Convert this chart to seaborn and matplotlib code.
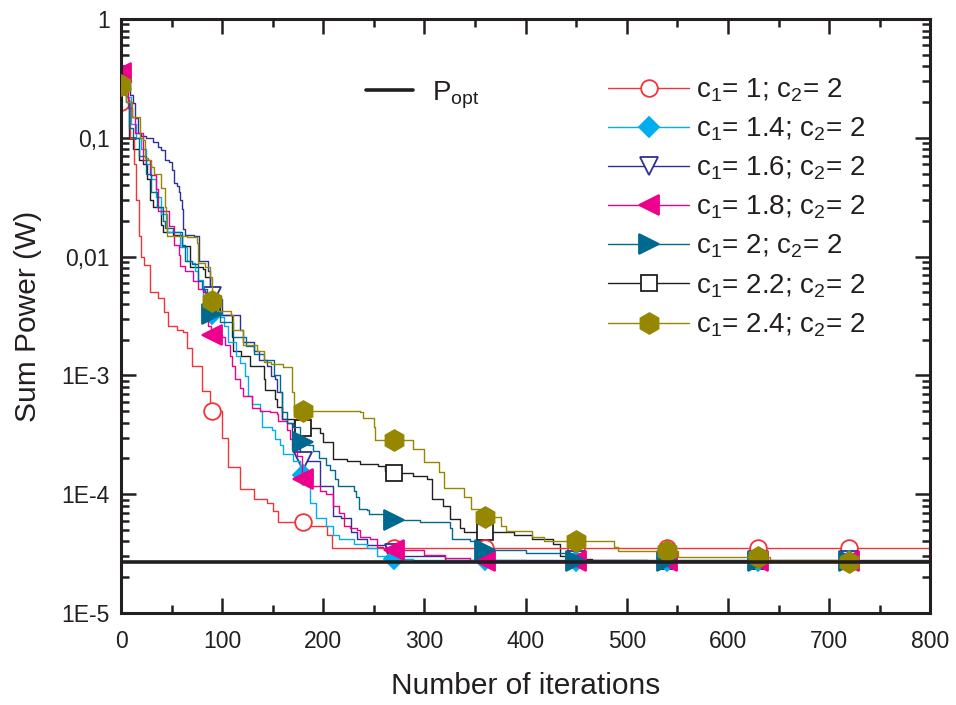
import numpy as np
import pandas as pd
import matplotlib
matplotlib.use("Agg")
import matplotlib.pyplot as plt
import seaborn as sns
from matplotlib.lines import Line2D
from matplotlib.ticker import FixedLocator, FixedFormatter, LogLocator, NullFormatter, MultipleLocator

# values (iteration, sum power in W)
red_x = [0, 9, 13, 15, 18, 20, 23, 29, 37, 42, 46, 55, 61, 65, 70, 80, 88, 100, 106, 118, 131, 144, 150, 155, 182, 204, 209, 800]
red_y = [0.2, 0.1, 0.06, 0.03, 0.015, 0.01, 0.0085, 0.005, 0.0045, 0.0034, 0.0026, 0.0024, 0.0023, 0.0017, 0.0012, 7.4e-4,
         5.0e-4, 3.0e-4, 1.7e-4, 1.1e-4, 9.2e-5, 8.5e-5, 7.2e-5, 5.8e-5, 5.4e-5, 4.5e-5, 3.5e-5, 3.5e-5]

cyan_x = [0, 5, 10, 15, 20, 25, 30, 35, 40, 45, 53, 58, 65, 70, 73, 76, 81, 86, 89, 98, 102, 106, 114, 118, 123, 126,
          129, 137, 139, 149, 152, 157, 160, 170, 177, 185, 187, 193, 203, 210, 215, 230, 243, 253, 269, 289, 400, 800]
cyan_y = [0.3, 0.22, 0.13, 0.1, 0.08, 0.06, 0.045, 0.032, 0.023, 0.016, 0.016, 0.012, 0.0091, 0.0089, 0.0075, 0.0064,
          0.0047, 0.0044, 0.0033, 0.0031, 0.0026, 0.0019, 0.00145, 0.00126, 0.00099, 6.7e-4, 5.7e-4, 5.0e-4, 3.7e-4,
          3.5e-4, 2.9e-4, 2.6e-4, 2.2e-4, 1.9e-4, 1.45e-4, 1.17e-4, 8.5e-5, 6.3e-5, 5.4e-5, 4.5e-5, 4.2e-5, 3.8e-5,
          3.5e-5, 3.0e-5, 2.85e-5, 2.8e-5, 2.72e-5, 2.72e-5]

blue_x = [0, 5, 9, 12, 14, 17, 20, 25, 32, 37, 40, 43, 47, 50, 52, 55, 57, 58, 60, 61, 63, 72, 77, 86, 88, 95, 100,
          118, 121, 131, 136, 144, 148, 152, 154, 159, 164, 169, 177, 190, 197, 210, 217, 227, 233, 243, 263, 276, 320, 800]
blue_y = [0.3, 0.28, 0.23, 0.196, 0.147, 0.11, 0.103, 0.1, 0.093, 0.084, 0.079, 0.065, 0.062, 0.054, 0.042, 0.039,
          0.035, 0.030, 0.025, 0.017, 0.0153, 0.0148, 0.0091, 0.0075, 0.0047, 0.0044, 0.0032, 0.0024, 0.0019, 0.0016,
          0.00136, 0.0012, 0.00099, 9.3e-4, 7.2e-4, 4.3e-4, 4.0e-4, 2.4e-4, 1.9e-4, 1.9e-4, 1.17e-4, 6.6e-5, 6.3e-5,
          4.8e-5, 4.2e-5, 3.7e-5, 3.2e-5, 3.0e-5, 2.8e-5, 2.72e-5]

pink_x = [0, 4, 7, 11, 14, 22, 29, 35, 37, 47, 52, 57, 58.5, 63.5, 71.5, 76.5, 81.4, 84.7, 86, 89, 99.6, 103, 108, 110,
          113, 118, 121, 129, 137.5, 147, 154, 155, 164, 167, 170, 174, 179, 187, 197, 203, 210, 215, 220, 226, 233,
          236, 246, 253, 259, 269, 300, 320, 345, 800]
pink_y = [0.35, 0.25, 0.18, 0.15, 0.11, 0.065, 0.049, 0.037, 0.024, 0.018, 0.0126, 0.0104, 0.0083, 0.0075, 0.0062,
          0.0053, 0.005, 0.0036, 0.0026, 0.0022, 0.0021, 0.0018, 0.00145, 0.0012, 9.3e-4, 7.9e-4, 6.7e-4, 5.3e-4,
          5.0e-4, 4.9e-4, 4.7e-4, 4.1e-4, 3.5e-4, 2.9e-4, 2.6e-4, 2.1e-4, 1.35e-4, 1.17e-4, 1.07e-4, 1.0e-4, 7.9e-5,
          7.0e-5, 5.4e-5, 5.2e-5, 5.0e-5, 4.4e-5, 4.2e-5, 3.6e-5, 3.5e-5, 3.4e-5, 3.1e-5, 2.9e-5, 2.72e-5, 2.72e-5]

teal_x = [0, 5, 8, 12, 18, 25, 30, 36, 41, 43.5, 51.5, 60, 63, 70, 76, 80, 85, 89, 98, 111, 124, 131, 141, 151, 157,
          159, 164, 170, 177, 185, 190, 196, 203, 207, 212, 214, 230, 232, 235, 243, 245, 266, 296, 325, 327, 345, 352,
          358, 400, 441, 450, 800]
teal_y = [0.26, 0.2, 0.12, 0.1, 0.07, 0.05, 0.035, 0.026, 0.02, 0.0175, 0.016, 0.0126, 0.0091, 0.0086, 0.0062, 0.0053,
          0.0047, 0.0033, 0.0028, 0.0021, 0.00177, 0.0015, 0.00136, 0.001, 7.2e-4, 4.9e-4, 4.0e-4, 3.7e-4, 2.75e-4,
          2.6e-4, 2.3e-4, 2.0e-4, 1.75e-4, 1.6e-4, 1.34e-4, 1.17e-4, 1.07e-4, 9.4e-5, 7.5e-5, 7.3e-5, 6.8e-5, 6.1e-5,
          5.8e-5, 5.2e-5, 4.2e-5, 4.0e-5, 3.6e-5, 3.4e-5, 3.2e-5, 2.84e-5, 2.75e-5, 2.72e-5]

black_x = [0, 5, 8, 12, 18, 22, 26, 28.7, 31.8, 40, 41.6, 51.5, 60, 68, 81, 83, 88, 89, 98, 109.5, 111, 119, 127.6, 141,
           142.6, 152, 153.7, 159, 170.5, 178, 197, 200, 210, 223, 236, 254, 261, 268, 289, 302, 307, 318, 325, 335,
           339, 388, 406, 427, 434, 445, 466, 520, 800]
black_y = [0.3, 0.2, 0.1, 0.08, 0.065, 0.06, 0.045, 0.03, 0.026, 0.0186, 0.016, 0.0153, 0.0122, 0.0081, 0.0078, 0.0068,
           0.005, 0.0038, 0.0032, 0.0021, 0.0016, 0.00145, 0.0012, 9.3e-4, 7.6e-4, 6.3e-4, 5.4e-4, 4.3e-4, 4.0e-4,
           3.6e-4, 3.3e-4, 2.75e-4, 1.97e-4, 1.9e-4, 1.79e-4, 1.73e-4, 1.58e-4, 1.5e-4, 1.43e-4, 1.35e-4, 9.1e-5,
           7.9e-5, 6.2e-5, 5.2e-5, 4.8e-5, 4.5e-5, 4.2e-5, 3.8e-5, 3.0e-5, 2.84e-5, 2.8e-5, 2.75e-5, 2.72e-5]

olive_x = [0, 5, 10.6, 18.8, 22, 23.7, 27, 30, 33, 40, 43.5, 44, 45, 65, 75, 76.5, 83, 88, 89.6, 94.6, 109, 111, 121,
           134, 141, 148, 160, 169, 171, 236, 239, 250, 251, 289, 300, 314, 319, 339, 346, 355, 376, 381, 406, 418,
           487, 491, 551, 642, 720, 800]
olive_y = [0.28, 0.2, 0.15, 0.10, 0.096, 0.068, 0.065, 0.057, 0.05, 0.038, 0.026, 0.018, 0.0148, 0.0145, 0.013, 0.0089,
           0.0081, 0.0068, 0.0042, 0.0035, 0.0032, 0.0024, 0.0018, 0.0016, 0.0013, 0.00124, 0.00117, 7.2e-4, 5.0e-4,
           4.9e-4, 4.4e-4, 3.7e-4, 2.84e-4, 2.4e-4, 1.87e-4, 1.55e-4, 1.12e-4, 9.4e-5, 7.5e-5, 6.4e-5, 5.4e-5, 4.9e-5,
           4.4e-5, 4.0e-5, 3.6e-5, 3.3e-5, 2.97e-5, 2.79e-5, 2.7e-5, 2.7e-5]

p_opt = 2.68e-5
mark_iters = [0, 90, 180, 270, 360, 450, 540, 630, 720]

labels = ["1", "1.4", "1.6", "1.8", "2", "2.2", "2.4"]
series = [
    (red_x, red_y, "#F2333A", "o", "white", 12),
    (cyan_x, cyan_y, "#00AEEF", "D", None, 10),
    (blue_x, blue_y, "#2E3192", "v", "white", 13),
    (pink_x, pink_y, "#EC008C", "<", None, 14),
    (teal_x, teal_y, "#00698F", ">", None, 14),
    (black_x, black_y, "#231F20", "s", "white", 12),
    (olive_x, olive_y, "#958800", "h", None, 15),
]
# black squares sit underneath the other markers in the original
draw_order = [5, 0, 2, 1, 3, 4, 6]


def add_marks(xs, ys):
    # put the marker iterations into the step series so markevery can use them
    df = pd.DataFrame({"x": xs, "y": ys})
    extra = []
    for m in mark_iters:
        if m not in xs:
            i = np.searchsorted(xs, m, side="right") - 1
            extra.append((m, ys[i]))
    df = pd.concat([df, pd.DataFrame(extra, columns=["x", "y"])]).sort_values("x").reset_index(drop=True)
    idx = [int(df.index[df["x"] == m][0]) for m in mark_iters]
    return df, idx


sns.set_style("ticks")
plt.rcParams["font.family"] = ["Liberation Sans", "DejaVu Sans"]
plt.rcParams["mathtext.fontset"] = "custom"
plt.rcParams["mathtext.rm"] = "Liberation Sans"
plt.rcParams["mathtext.it"] = "Liberation Sans:italic"

fig = plt.figure(figsize=(9.56, 7.05), dpi=100)
ax = fig.add_axes([0.1266, 0.1305, 0.8465, 0.8425])

handles = []
for k in range(len(series)):
    xs, ys, col, mk, fc, ms = series[k]
    handles.append(Line2D([], [], color=col, lw=1.0, marker=mk, markersize=ms,
                          markerfacecolor=fc if fc else col, markeredgecolor=col, markeredgewidth=1.3))
for z, k in enumerate(draw_order):
    xs, ys, col, mk, fc, ms = series[k]
    df, idx = add_marks(xs, ys)
    sns.lineplot(data=df, x="x", y="y", ax=ax, estimator=None, sort=False, drawstyle="steps-post",
                 color=col, lw=1.0, marker=mk, markevery=idx, markersize=ms, zorder=2 + z * 0.1,
                 markerfacecolor=fc if fc else col, markeredgecolor=col, markeredgewidth=1.3)

ax.axhline(p_opt, color="#231F20", lw=2.6, zorder=5)

ax.set_yscale("log")
ax.set_xlim(0, 800)
ax.set_ylim(1e-5, 1)
ax.xaxis.set_major_locator(MultipleLocator(100))
ax.xaxis.set_minor_locator(MultipleLocator(50))
ax.yaxis.set_major_locator(FixedLocator([1e-5, 1e-4, 1e-3, 1e-2, 1e-1, 1]))
ax.yaxis.set_major_formatter(FixedFormatter(["1E-5", "1E-4", "1E-3", "0,01", "0,1", "1"]))
ax.yaxis.set_minor_locator(LogLocator(base=10, subs=np.arange(2, 10), numticks=20))
ax.yaxis.set_minor_formatter(NullFormatter())

ax.tick_params(which="both", direction="in", top=True, right=True, width=1.8, colors="#231F20", labelsize=16.5)
ax.tick_params(which="major", length=11)
ax.tick_params(which="minor", length=6)
ax.tick_params(axis="x", which="major", pad=12)
ax.tick_params(axis="y", which="major", pad=8)
for s in ax.spines.values():
    s.set_linewidth(2.2)
    s.set_color("#231F20")

ax.set_xlabel("Number of iterations", fontsize=21.5, color="#231F20", labelpad=14)
ax.set_ylabel("Sum Power (W)", fontsize=21.5, color="#231F20", labelpad=14)

texts = ["c$_\\mathregular{1}$= %s; c$_\\mathregular{2}$= 2" % v for v in labels]
leg = ax.legend(handles, texts, loc="upper left", bbox_to_anchor=(0.585, 0.927), frameon=False,
                fontsize=20, handlelength=2.9, handletextpad=0.25, labelspacing=0.42, borderpad=0)
for t in leg.get_texts():
    t.set_color("#231F20")
ax.add_artist(leg)

popt_handle = Line2D([], [], color="#231F20", lw=2.6)
leg2 = ax.legend([popt_handle], ["P$_\\mathregular{opt}$"], loc="upper left", bbox_to_anchor=(0.285, 0.922),
                 frameon=False, fontsize=20, handlelength=1.7, handletextpad=0.7, borderpad=0)
for t in leg2.get_texts():
    t.set_color("#231F20")

fig.savefig("out.png", dpi=100)
